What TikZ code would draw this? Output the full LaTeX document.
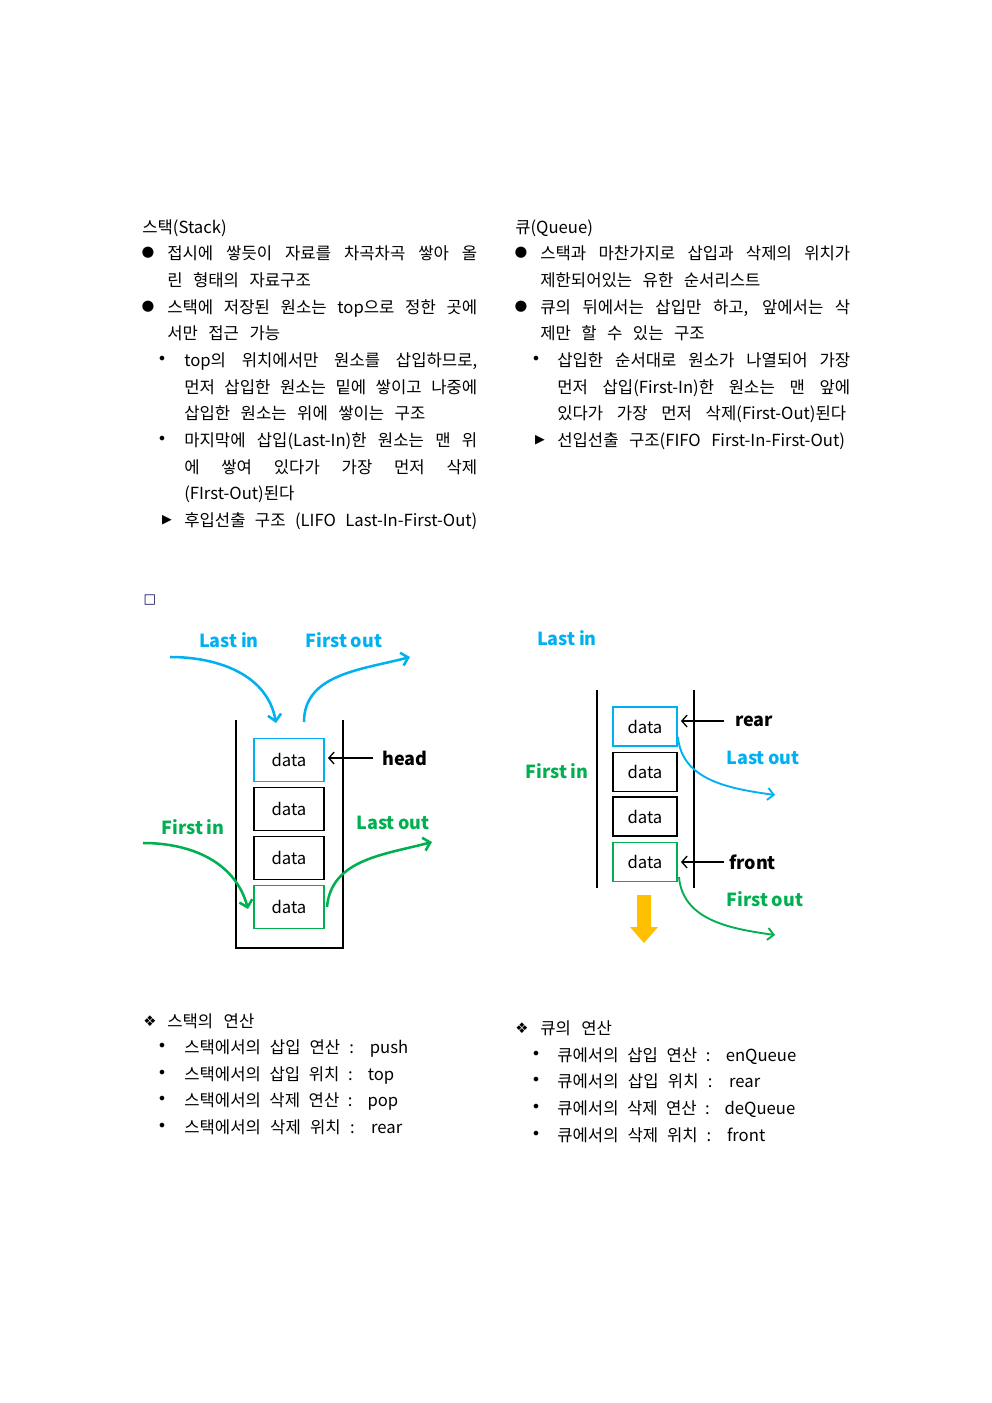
\documentclass[tikz,border=0pt]{standalone}
\usepackage{fontspec}
\setmainfont{Noto Sans CJK KR}[WordSpace=2.8]
\newfontfamily\symfont{DejaVu Sans}
\usetikzlibrary{arrows.meta}
\usepackage{xcolor}

\newlength\pxu
\setlength\pxu{0.75pt}
\definecolor{qcyan}{RGB}{0,176,240}
\definecolor{qgreen}{RGB}{0,176,80}
\definecolor{qorange}{RGB}{255,192,0}
\newcommand\bodyfont{\fontsize{12.5}{15}\selectfont}
\newcommand\lblfont{\fontsize{13.5}{13.5}\selectfont\bfseries\spaceskip=0.2em\relax}
\newcommand\wl[2]{\makebox[#1\pxu][s]{\spaceskip=0.2em plus 1fil\relax #2}}
\newcommand\jfull[1]{\wl{310}{#1}}
\newcommand\jsub[1]{\wl{293}{#1}}

\tikzset{
  txt/.style={anchor=base west, inner sep=0pt, font=\bodyfont},
  bigdot/.style={inner sep=0pt, font=\symfont\fontsize{11}{11}\selectfont},
  smalldot/.style={inner sep=0pt, font=\symfont\fontsize{12}{12}\selectfont},
  tri/.style={inner sep=0pt, font=\symfont\fontsize{9.5}{9.5}\selectfont},
  diam/.style={inner sep=0pt, font=\symfont\fontsize{11}{11}\selectfont},
  databox/.style={draw, line width=1.4pt, minimum width=70\pxu, minimum height=43\pxu, inner sep=0pt, font=\fontsize{12.5}{12.5}\selectfont},
  qbox/.style={databox, minimum width=64\pxu, minimum height=39\pxu},
  lbl/.style={inner sep=0pt, font=\lblfont},
  sarrow/.style={line width=1.9pt, -{Straight Barb[length=5pt,width=10pt]}},
  qarrow/.style={line width=1.4pt, -{Straight Barb[length=4.5pt,width=9pt]}},
  ptr/.style={line width=1pt, -{Straight Barb[length=4pt,width=9pt]}},
}

\begin{document}
\begin{tikzpicture}[x=0.75pt, y=-0.75pt]

    \useasboundingbox[fill=white] (0,0) rectangle (992,1403);

    % stack text
    \node[txt] (st0) at (142,233) {스택(Stack)};
    \node[bigdot] (sb1) at (148,253) {●};
    \node[txt] (st1) at (167,259) {\jfull{접시에 쌓듯이 자료를 차곡차곡 쌓아 올}};
    \node[txt] (st2) at (167,286) {린 형태의 자료구조};
    \node[bigdot] (sb2) at (148,307) {●};
    \node[txt] (st3) at (167,313) {\jfull{스택에 저장된 원소는 top으로 정한 곳에}};
    \node[txt] (st4) at (167,339) {서만 접근 가능};
    \node[smalldot] (sb3) at (162,360) {•};
    \node[txt] (st5) at (184,366) {\jsub{top의 위치에서만 원소를 삽입하므로,}};
    \node[txt] (st6) at (184,393) {\jsub{먼저 삽입한 원소는 밑에 쌓이고 나중에}};
    \node[txt] (st7) at (184,419) {삽입한 원소는 위에 쌓이는 구조};
    \node[smalldot] (sb4) at (162,440) {•};
    \node[txt] (st8) at (184,446) {\jsub{마지막에 삽입(Last-In)한 원소는 맨 위}};
    \node[txt] (st9) at (184,473) {\jsub{에 쌓여 있다가 가장 먼저 삭제}};
    \node[txt] (st10) at (184,499) {(FIrst-Out)된다};
    \node[tri] (sb5) at (167,520) {▶};
    \node[txt] (st11) at (184,526) {\jsub{후입선출 구조 (LIFO Last-In-First-Out)}};

    % queue text
    \node[txt] (qt0) at (515,233) {큐(Queue)};
    \node[bigdot] (qb1) at (521,253) {●};
    \node[txt] (qt1) at (540,259) {\jfull{스택과 마찬가지로 삽입과 삭제의 위치가}};
    \node[txt] (qt2) at (540,286) {제한되어있는 유한 순서리스트};
    \node[bigdot] (qb2) at (521,307) {●};
    \node[txt] (qt3) at (540,313) {\jfull{큐의 뒤에서는 삽입만 하고, 앞에서는 삭}};
    \node[txt] (qt4) at (540,339) {제만 할 수 있는 구조};
    \node[smalldot] (qb3) at (536,360) {•};
    \node[txt] (qt5) at (557,366) {\jsub{삽입한 순서대로 원소가 나열되어 가장}};
    \node[txt] (qt6) at (557,393) {\jsub{먼저 삽입(First-In)한 원소는 맨 앞에}};
    \node[txt] (qt7) at (557,419) {\wl{289}{있다가 가장 먼저 삭제(First-Out)된다}};
    \node[tri] (qb4) at (540,440) {▶};
    \node[txt] (qt8) at (557,446) {선입선출 구조(FIFO First-In-First-Out)};

    \node[inner sep=0pt, text=black!65!blue, font=\symfont\fontsize{10}{10}\selectfont] (sq) at (150,600) {□};

    % stack picture
    \draw[line width=1.1pt] (236,720) -- (236,948) -- (343,948) -- (343,720);

    \node[databox, draw=qcyan] (s1) at (289,760) {data};
    \node[databox] (s2) at (289,809) {data};
    \node[databox] (s3) at (289,858) {data};
    \node[databox, draw=qgreen] (s4) at (289,907) {data};

    \node[lbl, text=qcyan] (slastin) at (229,640) {Last in};
    \node[lbl, text=qcyan] (sfirstout) at (344,640) {First out};
    \node[lbl, text=qgreen] (sfirstin) at (193,827) {First in};
    \node[lbl, text=qgreen] (slastout) at (393,823) {Last out};
    \node[lbl, anchor=west] (head) at (382,758) {head};

    \draw[ptr, shorten <=9\pxu, shorten >=3\pxu] (head.west) -- (head.west -| s1.east);

    \coordinate (a1) at (170,657);
    \coordinate (a2) at (276,723);
    \coordinate (b1) at (304,722);
    \coordinate (b2) at (410,657);
    \coordinate (c1) at (143,843);
    \coordinate (c2) at (248,909);
    \coordinate (d1) at (327,907);
    \coordinate (d2) at (432,842);

    \draw[sarrow, qcyan] (a1) to[out=0, in=100] (a2);
    \draw[sarrow, qcyan] (b1) to[out=90, in=195] (b2);
    \draw[sarrow, qgreen] (c1) to[out=0, in=105] (c2);
    \draw[sarrow, qgreen] (d1) to[out=85, in=195] (d2);

    % queue picture
    \draw[line width=1.1pt] (597,690) -- (597,888);
    \draw[line width=1.1pt] (694,690) -- (694,888);

    \node[qbox, draw=qcyan] (q1) at (645,726.5) {data};
    \node[qbox] (q2) at (645,772) {data};
    \node[qbox] (q3) at (645,816.5) {data};
    \node[qbox, draw=qgreen] (q4) at (645,862) {data};

    \node[lbl, text=qcyan] (qlastin) at (567,638) {Last in};
    \node[lbl, text=qgreen] (qfirstin) at (557,771) {First in};
    \node[lbl, text=qcyan] (qlastout) at (763,758) {Last out};
    \node[lbl, text=qgreen] (qfirstout) at (765,899) {First out};
    \node[lbl, anchor=west] (rear) at (735,721) {rear};
    \node[lbl, anchor=west] (front) at (729,862) {front};

    \draw[ptr, shorten <=11\pxu, shorten >=3\pxu] (rear.west) -- (rear.west -| q1.east);
    \draw[ptr, shorten <=5\pxu, shorten >=3\pxu] (front.west) -- (front.west -| q4.east);

    \coordinate (e1) at (678,737);
    \coordinate (e2) at (775,795);
    \coordinate (f1) at (679,877);
    \coordinate (f2) at (775,935);

    \draw[qarrow, qcyan] (e1) to[out=-85, in=172] (e2);
    \draw[qarrow, qgreen] (f1) to[out=-85, in=172] (f2);

    \fill[qorange] (637,895) -- (651,895) -- (651,927) -- (658,927) -- (644,943)
        -- (630,927) -- (637,927) -- cycle;

    % operations
    \node[diam] (sd0) at (150,1021) {❖};
    \node[txt] (so0) at (167,1027) {스택의 연산};
    \node[smalldot] (sd1) at (162,1047) {•};
    \node[txt] (so1) at (184,1053) {\wl{224}{스택에서의 삽입 연산 : push}};
    \node[smalldot] (sd2) at (162,1074) {•};
    \node[txt] (so2) at (184,1080) {\wl{210}{스택에서의 삽입 위치 : top}};
    \node[smalldot] (sd3) at (162,1100) {•};
    \node[txt] (so3) at (184,1106) {\wl{214}{스택에서의 삭제 연산 : pop}};
    \node[smalldot] (sd4) at (162,1127) {•};
    \node[txt] (so4) at (184,1133) {\wl{218}{스택에서의 삭제 위치 : rear}};

    \node[diam] (qd0) at (522,1028) {❖};
    \node[txt] (qo0) at (540,1034) {큐의 연산};
    \node[smalldot] (qd1) at (536,1055) {•};
    \node[txt] (qo1) at (557,1061) {\wl{239}{큐에서의 삽입 연산 : enQueue}};
    \node[smalldot] (qd2) at (536,1081) {•};
    \node[txt] (qo2) at (557,1087) {\wl{203}{큐에서의 삽입 위치 : rear}};
    \node[smalldot] (qd3) at (536,1108) {•};
    \node[txt] (qo3) at (557,1114) {\wl{238}{큐에서의 삭제 연산 : deQueue}};
    \node[smalldot] (qd4) at (536,1135) {•};
    \node[txt] (qo4) at (557,1141) {\wl{208}{큐에서의 삭제 위치 : front}};

\end{tikzpicture}
\end{document}
